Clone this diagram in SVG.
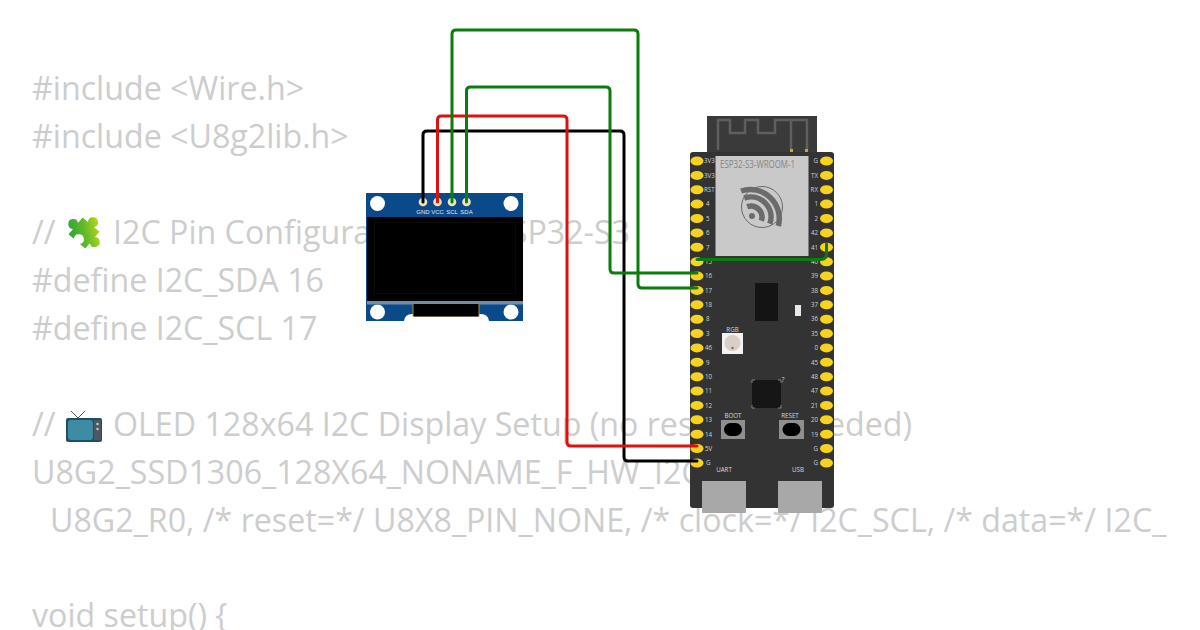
<svg xmlns="http://www.w3.org/2000/svg" width="1200" height="630" viewBox="0 0 1200 630">
<defs>
<linearGradient id="pz" x1="1" y1="0" x2="0" y2="1"><stop offset="0.150" stop-color="#c9dc1c"/><stop offset="0.550" stop-color="#5fba2a"/><stop offset="1" stop-color="#1f9a45"/></linearGradient>
</defs>
<style>
.code{font-family:"Open Sans","Noto Sans",sans-serif;font-size:32.200px;fill:#cdcdcd}
.end{text-anchor:end}
.pin{fill:#f7d21e}
.pl{font-family:"Open Sans","Noto Sans",sans-serif;font-size:6.200px;fill:#d2d2d2}
.pr{font-family:"Open Sans","Noto Sans",sans-serif;font-size:6.200px;fill:#d2d2d2;text-anchor:end}
.ol{font-family:"Liberation Sans",sans-serif;font-size:6px;fill:#e6e6e6;text-anchor:middle}
.hole{fill:#fff}
.pad{fill:#f2e3bd}
.w{fill:none;stroke-width:3;stroke-linecap:round;stroke-linejoin:round}
.mini{font-family:"Open Sans","Noto Sans",sans-serif;font-size:6.200px;fill:#d8d8d8;text-anchor:middle}
</style>
<rect width="1200" height="630" fill="#fff"/>
<g id="code">
<text class="code" x="32" y="100">#include &lt;Wire.h&gt;</text>
<text class="code" x="32" y="148">#include &lt;U8g2lib.h&gt;</text>
<text class="code" x="32" y="244">//</text>
<text class="code" x="113" y="244">I2C Pin Configura</text>
<text class="code end" x="630" y="244">SP32-S3</text>
<text class="code" x="32" y="292">#define I2C_SDA 16</text>
<text class="code" x="32" y="340">#define I2C_SCL 17</text>
<text class="code" x="32" y="436">//</text>
<text class="code" x="113" y="436">OLED 128x64 I2C Display Setup (no res</text>
<text class="code end" x="912" y="436">eded)</text>
<text class="code" x="32" y="484">U8G2_SSD1306_128X64_NONAME_F_HW_I2C</text>
<text class="code" x="50" y="532">U8G2_R0, /* reset=*/ U8X8_PIN_NONE, /* clock=*/ I2C_SCL, /* data=*/ I2C_</text>
<text class="code" x="32" y="627">void setup() {</text>
</g>
<g id="emoji-puzzle">
<path transform="translate(84 233) rotate(40)" fill="url(#pz)" d="M-11-11H-4a5 5 0 1 1 8 0H11V-4a5 5 0 1 1 0 8V11H4a5 5 0 1 0-8 0H-11V4a5 5 0 1 1 0-8Z"/>
</g>
<g id="emoji-tv">
<path d="M71 411l7 7 7-7" fill="none" stroke="#555" stroke-width="1"/>
<rect x="66" y="418" width="36" height="24" rx="2" fill="#1e4f62"/>
<rect x="68" y="420" width="25" height="20" rx="3" fill="#3f8ba3"/>
<rect x="94" y="420" width="7" height="20" fill="#4a5a60"/>
<circle cx="97.500" cy="424" r="1.200" fill="#ccc"/>
<circle cx="97.500" cy="429" r="1.200" fill="#ccc"/>
</g>
<g id="oled">
<rect x="366" y="193" width="157" height="128" fill="#0b4a8a"/>
<circle class="hole" cx="377.500" cy="203.500" r="7.500"/>
<circle class="hole" cx="511" cy="203.500" r="7.500"/>
<circle class="hole" cx="377.500" cy="312" r="7.500"/>
<circle class="hole" cx="511" cy="312" r="7.500"/>
<rect x="367" y="217" width="156" height="84" fill="#000"/>
<rect x="374.500" y="222.500" width="141" height="71" fill="none" stroke="#111" stroke-width="0.700"/>
<rect x="367" y="301" width="156" height="3.500" fill="#6f8dab"/>
<path d="M404 321q1-7 8-7h69q7 0 8 7z" fill="#fff"/>
<rect x="412.500" y="304" width="67" height="12.500" fill="#c08a3c"/>
<rect x="413.500" y="304" width="65" height="12.500" fill="#000"/>
<circle class="pad" cx="423" cy="202" r="4.300"/>
<circle class="pad" cx="437.500" cy="202" r="4.300"/>
<circle class="pad" cx="452" cy="202" r="4.300"/>
<circle class="pad" cx="466.500" cy="202" r="4.300"/>
<text class="ol" x="423" y="214">GND</text>
<text class="ol" x="437.500" y="214">VCC</text>
<text class="ol" x="452" y="214">SCL</text>
<text class="ol" x="466.500" y="214">SDA</text>
</g>
<g id="esp32">
<rect x="707" y="116" width="110" height="40" fill="#3a3a3a"/>
<path d="M718 150V120h12v13h15v-13h13v13h17v-13h32v30M791 120v30" fill="none" stroke="#5f5f5f" stroke-width="2.500"/>
<rect x="790" y="149" width="3" height="3" fill="#c8a926"/>
<rect x="805" y="149" width="3" height="3" fill="#c8a926"/>
<rect x="690" y="152" width="144" height="356" rx="3" fill="#333"/>
<rect x="715.500" y="156" width="93" height="100" fill="#c9c9c9"/>
<text x="720" y="168" font-family="'Open Sans','Noto Sans',sans-serif" font-size="10" fill="#858585" textLength="75" lengthAdjust="spacingAndGlyphs">ESP32-S3-WROOM-1</text>
<circle cx="762" cy="207" r="20.500" fill="none" stroke="#6b6b6b" stroke-width="1"/>
<path d="M747.200 206.700A11 11 0 0 1 761.300 220.800M744.200 198.200A20 20 0 0 1 769.800 223.800M741.100 191A29 29 0 0 1 778.300 226" fill="none" stroke="#6b6b6b" stroke-width="5.500"/>
<circle cx="752" cy="216" r="3" fill="#6b6b6b"/>
<g class="pin">
<ellipse cx="697" cy="161" rx="6.500" ry="4.500"/><ellipse cx="697" cy="175.400" rx="6.500" ry="4.500"/><ellipse cx="697" cy="189.800" rx="6.500" ry="4.500"/><ellipse cx="697" cy="204.100" rx="6.500" ry="4.500"/><ellipse cx="697" cy="218.500" rx="6.500" ry="4.500"/><ellipse cx="697" cy="232.900" rx="6.500" ry="4.500"/><ellipse cx="697" cy="247.300" rx="6.500" ry="4.500"/><ellipse cx="697" cy="261.700" rx="6.500" ry="4.500"/><ellipse cx="697" cy="276" rx="6.500" ry="4.500"/><ellipse cx="697" cy="290.400" rx="6.500" ry="4.500"/><ellipse cx="697" cy="304.800" rx="6.500" ry="4.500"/><ellipse cx="697" cy="319.200" rx="6.500" ry="4.500"/><ellipse cx="697" cy="333.500" rx="6.500" ry="4.500"/><ellipse cx="697" cy="347.900" rx="6.500" ry="4.500"/><ellipse cx="697" cy="362.300" rx="6.500" ry="4.500"/><ellipse cx="697" cy="376.700" rx="6.500" ry="4.500"/><ellipse cx="697" cy="391" rx="6.500" ry="4.500"/><ellipse cx="697" cy="405.400" rx="6.500" ry="4.500"/><ellipse cx="697" cy="419.800" rx="6.500" ry="4.500"/><ellipse cx="697" cy="434.200" rx="6.500" ry="4.500"/><ellipse cx="697" cy="448.500" rx="6.500" ry="4.500"/><ellipse cx="697" cy="463" rx="6.500" ry="4.500"/>
<ellipse cx="826.500" cy="161" rx="6.500" ry="4.500"/><ellipse cx="826.500" cy="175.400" rx="6.500" ry="4.500"/><ellipse cx="826.500" cy="189.800" rx="6.500" ry="4.500"/><ellipse cx="826.500" cy="204.100" rx="6.500" ry="4.500"/><ellipse cx="826.500" cy="218.500" rx="6.500" ry="4.500"/><ellipse cx="826.500" cy="232.900" rx="6.500" ry="4.500"/><ellipse cx="826.500" cy="247.300" rx="6.500" ry="4.500"/><ellipse cx="826.500" cy="261.700" rx="6.500" ry="4.500"/><ellipse cx="826.500" cy="276" rx="6.500" ry="4.500"/><ellipse cx="826.500" cy="290.400" rx="6.500" ry="4.500"/><ellipse cx="826.500" cy="304.800" rx="6.500" ry="4.500"/><ellipse cx="826.500" cy="319.200" rx="6.500" ry="4.500"/><ellipse cx="826.500" cy="333.500" rx="6.500" ry="4.500"/><ellipse cx="826.500" cy="347.900" rx="6.500" ry="4.500"/><ellipse cx="826.500" cy="362.300" rx="6.500" ry="4.500"/><ellipse cx="826.500" cy="376.700" rx="6.500" ry="4.500"/><ellipse cx="826.500" cy="391" rx="6.500" ry="4.500"/><ellipse cx="826.500" cy="405.400" rx="6.500" ry="4.500"/><ellipse cx="826.500" cy="419.800" rx="6.500" ry="4.500"/><ellipse cx="826.500" cy="434.200" rx="6.500" ry="4.500"/><ellipse cx="826.500" cy="448.500" rx="6.500" ry="4.500"/><ellipse cx="826.500" cy="463" rx="6.500" ry="4.500"/>
</g>
<g>
<text class="pl" x="704" y="163">3V3</text><text class="pl" x="704" y="177.500">3V3</text><text class="pl" x="704" y="192">RST</text><text class="pl" x="706" y="206">4</text><text class="pl" x="706" y="220.500">5</text><text class="pl" x="706" y="235">6</text><text class="pl" x="706" y="249.500">7</text><text class="pl" x="705" y="264">15</text><text class="pl" x="705" y="278">16</text><text class="pl" x="705" y="292.500">17</text><text class="pl" x="705" y="307">18</text><text class="pl" x="706" y="321">8</text><text class="pl" x="706" y="335.500">3</text><text class="pl" x="705" y="350">46</text><text class="pl" x="706" y="364.500">9</text><text class="pl" x="705" y="379">10</text><text class="pl" x="705" y="393">11</text><text class="pl" x="705" y="407.500">12</text><text class="pl" x="705" y="422">13</text><text class="pl" x="705" y="436.500">14</text><text class="pl" x="705" y="451">5V</text><text class="pl" x="706" y="465">G</text>
<text class="pr" x="818" y="163">G</text><text class="pr" x="818" y="177.500">TX</text><text class="pr" x="818" y="192">RX</text><text class="pr" x="818" y="206">1</text><text class="pr" x="818" y="220.500">2</text><text class="pr" x="818" y="235">42</text><text class="pr" x="818" y="249.500">41</text><text class="pr" x="818" y="264">40</text><text class="pr" x="818" y="278">39</text><text class="pr" x="818" y="292.500">38</text><text class="pr" x="818" y="307">37</text><text class="pr" x="818" y="321">36</text><text class="pr" x="818" y="335.500">35</text><text class="pr" x="818" y="350">0</text><text class="pr" x="818" y="364.500">45</text><text class="pr" x="818" y="379">48</text><text class="pr" x="818" y="393">47</text><text class="pr" x="818" y="407.500">21</text><text class="pr" x="818" y="422">20</text><text class="pr" x="818" y="436.500">19</text><text class="pr" x="818" y="451">G</text><text class="pr" x="818" y="465">G</text>
</g>
<rect x="755" y="283" width="23" height="38" fill="#141414"/>
<rect x="795" y="305" width="6" height="11" fill="#e8e8e8"/>
<rect x="722" y="333" width="21" height="21" fill="#f2f2f2"/>
<circle cx="732.500" cy="343" r="8" fill="#d8d0c8"/>
<circle cx="732.500" cy="348" r="1.300" fill="#8a7a50"/>
<text class="mini" x="732.500" y="332">RGB</text>
<rect x="752" y="380" width="29" height="28" fill="#161616"/>
<path d="M752 383v-3h3M778 380h3v3M752 405v3h3M778 408h3v-3" fill="none" stroke="#aaa" stroke-width="0.700"/>
<text class="mini" x="783" y="382">?</text>
<rect x="721" y="420" width="24" height="19" fill="#8f8f8f"/>
<rect x="724" y="423" width="18" height="13" rx="6.500" fill="#000"/>
<text class="mini" x="733" y="418">BOOT</text>
<rect x="779" y="420" width="25" height="19" fill="#8f8f8f"/>
<rect x="782.500" y="423" width="18" height="13" rx="6.500" fill="#000"/>
<text class="mini" x="790" y="418">RESET</text>
<text class="mini" x="724" y="472">UART</text>
<text class="mini" x="798" y="472">USB</text>
<rect x="702" y="481" width="44" height="32" fill="#a8a8a8"/>
<rect x="778" y="481" width="44" height="32" fill="#a8a8a8"/>
</g>
<g id="connectors">
<path class="w" stroke="#000" d="M423 202V135q0-4 4-4H620q4 0 4 4V457q0 4 4 4H697"/>
<path class="w" stroke="#e01010" d="M437.500 202V120q0-4 4-4H563q4 0 4 4V442q0 4 4 4H697"/>
<path class="w" stroke="#0a7d0a" d="M452 202V34q0-4 4-4H634q4 0 4 4V284q0 4 4 4H697"/>
<path class="w" stroke="#0a7d0a" d="M466.500 202V91q0-4 4-4H606q4 0 4 4V269q0 4 4 4H697"/>
<path class="w" stroke="#0a7d0a" d="M697 259.500H821q5.500 0 5.500-6V244"/>
</g>
</svg>
